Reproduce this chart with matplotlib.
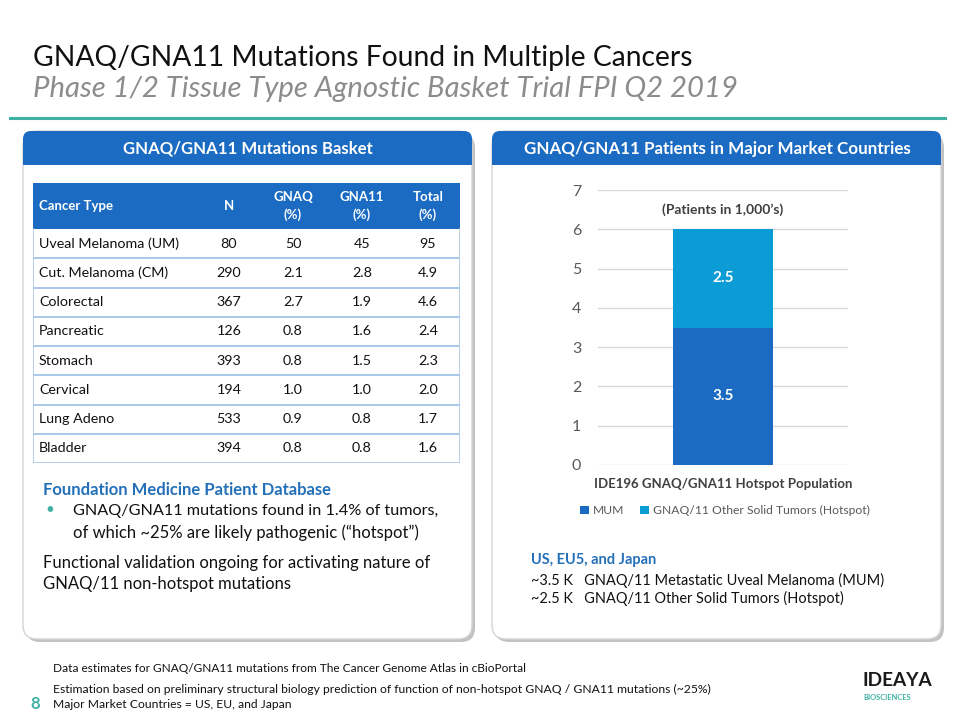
import matplotlib
matplotlib.use("Agg")
import matplotlib.pyplot as plt
from matplotlib.patches import FancyBboxPatch, Rectangle
from matplotlib.transforms import Affine2D

# ---------------- data ----------------
cancer_types = ["Uveal Melanoma (UM)", "Cut. Melanoma (CM)", "Colorectal", "Pancreatic",
                "Stomach", "Cervical", "Lung Adeno", "Bladder"]
n_values = [80, 290, 367, 126, 393, 194, 533, 394]
gnaq_pct = [50, 2.1, 2.7, 0.8, 0.8, 1.0, 0.9, 0.8]
gna11_pct = [45, 2.8, 1.9, 1.6, 1.5, 1.0, 0.8, 0.8]
total_pct = [95, 4.9, 4.6, 2.4, 2.3, 2.0, 1.7, 1.6]
table_headers = ["Cancer Type", "N", "GNAQ\n(%)", "GNA11\n(%)", "Total\n(%)"]

bar_category = ["IDE196 GNAQ/GNA11 Hotspot Population"]
series_names = ["MUM", "GNAQ/11 Other Solid Tumors (Hotspot)"]
mum_values = [3.5]
other_values = [2.5]
y_ticks = [0, 1, 2, 3, 4, 5, 6, 7]

W, H = 960, 720
plt.rcParams['font.family'] = ['Lato', 'DejaVu Sans']
fig = plt.figure(figsize=(W / 100, H / 100), dpi=100)
fig.patch.set_facecolor("white")
PX = Affine2D().scale(1, -1).translate(0, H)  # top-left pixel coords -> display

BLUE = "#1a6bc1"
LIGHT = "#0b9bd5"
TEAL = "#3fb1a2"
TXT_BLUE = "#2470b9"
LINE = "#a9c8e8"

fig.canvas.draw()
R = fig.canvas.get_renderer()


def T(x, y, s, target_w=None, **kw):
    t = fig.text(x / W, 1 - y / H, s, **kw)
    if target_w:
        bb = t.get_window_extent(renderer=R)
        t.set_fontsize(t.get_fontsize() * target_w / bb.width)
    return t


# ---------------- title ----------------
T(33, 66, "GNAQ/GNA11 Mutations Found in Multiple Cancers", 655, fontsize=22,
  color="#111111", va="baseline")
T(33, 97, "Phase 1/2 Tissue Type Agnostic Basket Trial FPI Q2 2019", 702, fontsize=22,
  color="#8c8c8c", style="italic", va="baseline")
fig.add_artist(plt.Line2D([10, 945], [118, 118], transform=PX, color=TEAL, lw=2.2))

# ---------------- panels ----------------
for x0 in (23, 492):
    w = 449
    sh = FancyBboxPatch((x0 + 3, 134), w, 508, boxstyle="round,pad=0,rounding_size=14",
                        transform=PX, fc="#9a9a9a", ec="none", alpha=0.6, zorder=-3)
    fig.add_artist(sh)
    p = FancyBboxPatch((x0, 131), w, 508, boxstyle="round,pad=0,rounding_size=14",
                       transform=PX, fc="white", ec="#d4d4d4", lw=1, zorder=-2)
    fig.add_artist(p)
    hb = FancyBboxPatch((x0, 131), w, 34, boxstyle="round,pad=0,rounding_size=8",
                        transform=PX, fc=BLUE, ec="none", zorder=-1)
    fig.add_artist(hb)
    fig.add_artist(Rectangle((x0, 148), w, 17, transform=PX, fc=BLUE, ec="none", zorder=-1))

T(248, 149, "GNAQ/GNA11 Mutations Basket", 250, fontsize=12, color="white",
  weight="bold", ha="center", va="center")
T(717, 149, "GNAQ/GNA11 Patients in Major Market Countries", 386, fontsize=12,
  color="white", weight="bold", ha="center", va="center")

# ---------------- table ----------------
tx0, ty0, tw, th = 33, 183, 427, 280
tax = fig.add_axes([tx0 / W, 1 - (ty0 + th) / H, tw / W, th / H])
tax.set_zorder(2)
tax.patch.set_alpha(0)
tax.set_xlim(0, tw)
tax.set_ylim(th, 0)
tax.axis("off")
head_h = 46
row_h = (th - head_h) / len(cancer_types)
tax.add_patch(Rectangle((0, 0), tw, head_h, fc=BLUE, ec="none"))
col_x = [6, 196, 260, 329, 395]
col_ha = ["left", "center", "center", "center", "center"]


def fmt(v):
    return f"{v:.0f}" if v >= 10 else f"{v:.1f}"


hdr_texts = []
for j, h in enumerate(table_headers):
    t = tax.text(col_x[j], head_h / 2, h, color="white", weight="bold", fontsize=9.5,
                 ha=col_ha[j], va="center", linespacing=1.5)
    hdr_texts.append(t)
bb = hdr_texts[0].get_window_extent(renderer=R)
hdr_sz = 9.5 * 74 / bb.width
for t in hdr_texts:
    t.set_fontsize(hdr_sz)

body_texts = []
for i, ct in enumerate(cancer_types):
    yc = head_h + (i + 0.5) * row_h
    vals = [ct, str(n_values[i]), fmt(gnaq_pct[i]), fmt(gna11_pct[i]), fmt(total_pct[i])]
    for j, v in enumerate(vals):
        t = tax.text(col_x[j], yc, v, color="#111111", fontsize=11, ha=col_ha[j], va="center")
        body_texts.append(t)
    tax.plot([0, tw], [head_h + (i + 1) * row_h] * 2, color=LINE, lw=1.2)
    if i > 0:
        tax.plot([0, tw], [head_h + i * row_h] * 2, color=LINE, lw=1.2)
tax.plot([0, 0], [head_h, th], color=LINE, lw=1.2)
tax.plot([tw, tw], [head_h, th], color=LINE, lw=1.2)
bb = body_texts[0].get_window_extent(renderer=R)
body_sz = 11 * 141 / bb.width
for t in body_texts:
    t.set_fontsize(body_sz)

# ---------------- left text ----------------
T(43, 490, "Foundation Medicine Patient Database", 290, fontsize=12.5, color=TXT_BLUE,
  weight="bold", va="center")
T(45, 510, "•", fontsize=11, color=TEAL, va="center")
T(73, 511, "GNAQ/GNA11 mutations found in 1.4% of tumors,", 367, fontsize=12.5,
  color="#111111", va="center")
s = T(73, 533, "of which ~25% are likely pathogenic (\u201chotspot\u201d)", None, fontsize=12.5,
      color="#111111", va="center")
f1 = T(43, 563, "Functional validation ongoing for activating nature of", 389, fontsize=12.5,
       color="#111111", va="center")
s.set_fontsize(f1.get_fontsize())
T(43, 584, "GNAQ/11 non-hotspot mutations", None, fontsize=f1.get_fontsize(),
  color="#111111", va="center")

# ---------------- bar chart ----------------
ax = fig.add_axes([598 / W, 1 - 465 / H, 250 / W, 275 / H])
ax.set_zorder(2)
ax.patch.set_alpha(0)
x = [0]
b1 = ax.bar(x, mum_values, width=0.5, color=BLUE, label=series_names[0], zorder=3)
b2 = ax.bar(x, other_values, bottom=mum_values, width=0.5, color=LIGHT,
            label=series_names[1], zorder=3)
ax.set_xlim(-0.625, 0.625)
ax.set_ylim(0, 7)
ax.set_yticks(y_ticks)
ax.set_yticklabels([str(v) for v in y_ticks], fontsize=11.5, color="#595959")
ax.set_xticks(x)
ax.set_xticklabels(bar_category, fontsize=9.5, color="#404040", weight="bold")
ax.tick_params(axis="both", length=0)
ax.tick_params(axis="y", pad=12)
ax.tick_params(axis="x", pad=9)
ax.grid(axis="y", color="#d9d9d9", lw=1, zorder=0)
for sp in ax.spines.values():
    sp.set_visible(False)
for i in range(len(x)):
    ax.text(x[i], mum_values[i] / 2, f"{mum_values[i]:.1f}", color="white", weight="bold",
            fontsize=11, ha="center", va="center", zorder=4)
    ax.text(x[i], mum_values[i] + other_values[i] / 2, f"{other_values[i]:.1f}",
            color="white", weight="bold", fontsize=11, ha="center", va="center", zorder=4)
ax.text(0, 6.5, "(Patients in 1,000\u2019s)", color="#404040", weight="bold", fontsize=10,
        ha="center", va="center")
ax.legend(handles=[b1, b2], loc="center", bbox_to_anchor=(0.508, -0.167), ncol=2,
          frameon=False, fontsize=8.7, handlelength=0.7, handleheight=0.7,
          handletextpad=0.35, columnspacing=1.3, labelcolor="#595959")

# ---------------- right text ----------------
T(531, 560, "US, EU5, and Japan", 126, fontsize=11, color=TXT_BLUE, weight="bold",
  va="center")
r1 = T(531, 580, "~3.5 K   GNAQ/11 Metastatic Uveal Melanoma (MUM)", 352, fontsize=11,
       color="#111111", va="center")
T(531, 598, "~2.5 K   GNAQ/11 Other Solid Tumors (Hotspot)", None, fontsize=r1.get_fontsize(),
  color="#111111", va="center")

# ---------------- footer ----------------
NARROW = ['Liberation Sans Narrow', 'Lato', 'DejaVu Sans']
T(53, 668, "Data estimates for GNAQ/GNA11 mutations from The Cancer Genome Atlas in cBioPortal",
  474, fontsize=9, color="#111111", va="center", family=NARROW)
fl = T(53, 689, "Estimation based on preliminary structural biology prediction of function of "
       "non-hotspot GNAQ / GNA11 mutations (~25%)", 659, fontsize=9, color="#111111",
       va="center", family=NARROW)
T(53, 704, "Major Market Countries = US, EU, and Japan", None, fontsize=fl.get_fontsize(),
  color="#111111", va="center", family=NARROW)
T(30, 704, "8", fontsize=12, color=TEAL, weight="bold", va="center")

# logo
T(897, 680, "IDEAYA", 70, fontsize=16, color="#1a1a1a", weight="bold", ha="center",
  va="center")
T(887, 697, "BIOSCIENCES", 48, fontsize=4, color=TEAL, weight="bold", ha="center",
  va="center")

fig.savefig("out.png", dpi=100, facecolor="white")
